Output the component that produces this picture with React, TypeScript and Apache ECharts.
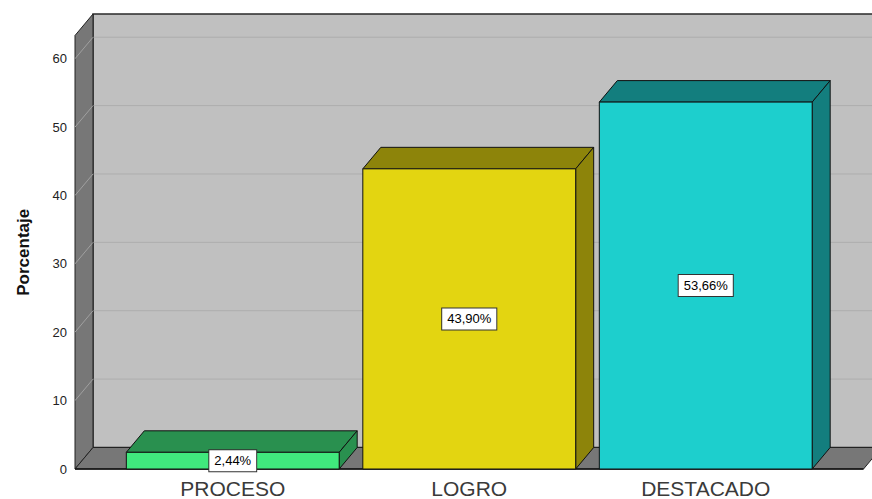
import React, { useEffect, useRef } from "react";
import * as echarts from "echarts";

const categories = ["PROCESO", "LOGRO", "DESTACADO"];
const values = [2.44, 43.9, 53.66];
const valueLabels = ["2,44%", "43,90%", "53,66%"];
const yTicks = [0, 10, 20, 30, 40, 50, 60];
const frontColors = ["#40e97d", "#e3d511", "#1dcfcd"];
const darkColors = ["#29904f", "#8d840a", "#137e7e"];

const DX = 18;
const DY = -21.5;
const WALL_PAD = 39.5;
const FONT = "Arial, 'Liberation Sans', sans-serif";

export default function App() {
  const ref = useRef<HTMLDivElement>(null);
  useEffect(() => {
    if (!ref.current) return;
    const chart = echarts.init(ref.current, undefined, { renderer: "svg" });
    const option: any = {
      animation: false,
      backgroundColor: "#ffffff",
      grid: { left: 114.5, right: 48, top: 35.5, bottom: 30 },
      xAxis: {
        type: "category",
        data: categories,
        axisLine: { show: false },
        axisTick: { show: false },
        splitLine: { show: false },
        axisLabel: { fontSize: 21, color: "#3a3a3a", fontFamily: FONT, margin: 9 },
      },
      yAxis: {
        type: "value",
        min: 0,
        max: 63.4,
        interval: 10,
        offset: WALL_PAD,
        axisLine: { show: false },
        axisTick: { show: false },
        splitLine: { show: false },
        axisLabel: {
          fontSize: 13,
          color: "#222",
          fontFamily: FONT,
          margin: 8,
          showMaxLabel: false,
          formatter: (v: number) => (yTicks.indexOf(v) >= 0 ? String(v) : ""),
        },
        name: "Porcentaje",
        nameLocation: "middle",
        nameGap: 43,
        nameTextStyle: { fontSize: 17, fontWeight: "bold", color: "#111", fontFamily: FONT },
      },
      series: [
        {
          type: "custom",
          z: 1,
          silent: true,
          clip: false,
          data: [[0, 0]],
          renderItem: (params: any, api: any) => {
            const cs = params.coordSys;
            const L = cs.x - WALL_PAD;
            const R = cs.x + cs.width + WALL_PAD;
            const T = cs.y;
            const B = cs.y + cs.height;
            const children: any[] = [];
            children.push({
              type: "polygon",
              shape: { points: [[L + DX, T + DY], [R + DX, T + DY], [R + DX, B + DY], [L + DX, B + DY]] },
              style: { fill: "#c0c0c0", stroke: "#2a2a2a", lineWidth: 1.5 },
            });
            yTicks.forEach((t) => {
              if (t === 0) return;
              const y = api.coord([0, t])[1];
              children.push({
                type: "line",
                shape: { x1: L + DX, y1: y + DY, x2: R + DX, y2: y + DY },
                style: { stroke: "#adadad", lineWidth: 1 },
              });
            });
            children.push({
              type: "polygon",
              shape: { points: [[L, B], [L, T], [L + DX, T + DY], [L + DX, B + DY]] },
              style: { fill: "#777777", stroke: "#222", lineWidth: 1 },
            });
            yTicks.forEach((t) => {
              if (t === 0) return;
              const y = api.coord([0, t])[1];
              children.push({
                type: "line",
                shape: { x1: L, y1: y, x2: L + DX, y2: y + DY },
                style: { stroke: "#a0a0a0", lineWidth: 1 },
              });
            });
            children.push({
              type: "polygon",
              shape: { points: [[L, B], [R, B], [R + DX, B + DY], [L + DX, B + DY]] },
              style: { fill: "#777777", stroke: "#222", lineWidth: 1 },
            });
            children.push({
              type: "line",
              shape: { x1: L, y1: B, x2: R, y2: B },
              style: { stroke: "#111", lineWidth: 1.5 },
            });
            return { type: "group", children };
          },
        },
        {
          type: "custom",
          z: 2,
          clip: false,
          data: values.map((v, i) => [i, v]),
          renderItem: (params: any, api: any) => {
            const i = api.value(0);
            const v = api.value(1);
            const base = api.coord([i, 0]);
            const top = api.coord([i, v]);
            const band = api.size([1, 0])[0];
            const bw = band * 0.9;
            const x0 = base[0] - bw / 2;
            const x1 = base[0] + bw / 2;
            const y0 = base[1];
            const y1 = top[1];
            const dark = darkColors[i];
            return {
              type: "group",
              children: [
                {
                  type: "polygon",
                  shape: { points: [[x0, y1], [x1, y1], [x1 + DX, y1 + DY], [x0 + DX, y1 + DY]] },
                  style: { fill: dark, stroke: "#111", lineWidth: 1 },
                },
                {
                  type: "polygon",
                  shape: { points: [[x1, y1], [x1 + DX, y1 + DY], [x1 + DX, y0 + DY], [x1, y0]] },
                  style: { fill: dark, stroke: "#111", lineWidth: 1 },
                },
                {
                  type: "rect",
                  shape: { x: x0, y: y1, width: bw, height: y0 - y1 },
                  style: { fill: frontColors[i], stroke: "#111", lineWidth: 1 },
                },
                {
                  type: "text",
                  x: base[0],
                  y: (y0 + y1) / 2,
                  style: {
                    text: valueLabels[i],
                    fontSize: 13,
                    fontFamily: FONT,
                    fill: "#000",
                    align: "center",
                    verticalAlign: "middle",
                    backgroundColor: "#ffffff",
                    borderColor: "#333",
                    borderWidth: 1,
                    padding: [4, 5, 4, 5],
                  },
                },
              ],
            };
          },
        },
      ],
    };
    chart.setOption(option);
    return () => chart.dispose();
  }, []);
  return (
    <div
      ref={ref}
      style={{ position: "absolute", left: 0, top: 0, width: "872px", height: "499px" }}
    />
  );
}
